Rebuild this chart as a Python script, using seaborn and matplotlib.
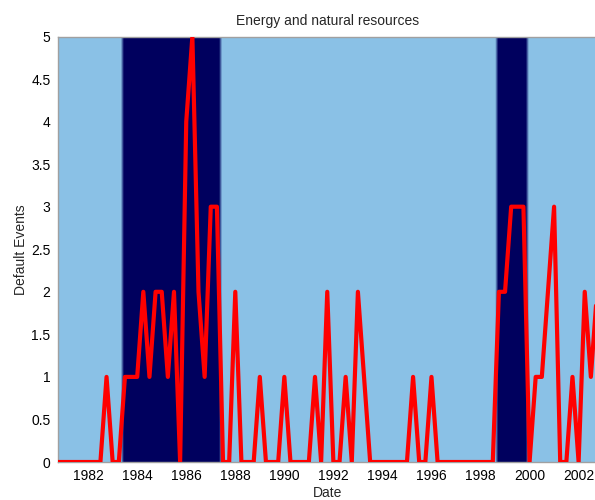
import numpy as np
import pandas as pd
import matplotlib
matplotlib.use("Agg")
import matplotlib.pyplot as plt
from matplotlib.colors import LinearSegmentedColormap
import seaborn as sns

# Quarterly default counts, 1980Q4 .. 2002Q4
defaults = [
    0,
    0, 0, 0, 0,   # 1981
    0, 0, 0, 1,   # 1982
    0, 0, 1, 1,   # 1983
    1, 2, 1, 2,   # 1984
    2, 1, 2, 0,   # 1985
    4, 5, 2, 1,   # 1986
    3, 3, 0, 0,   # 1987
    2, 0, 0, 0,   # 1988
    1, 0, 0, 0,   # 1989
    1, 0, 0, 0,   # 1990
    0, 1, 0, 2,   # 1991
    0, 0, 1, 0,   # 1992
    2, 1, 0, 0,   # 1993
    0, 0, 0, 0,   # 1994
    0, 1, 0, 0,   # 1995
    1, 0, 0, 0,   # 1996
    0, 0, 0, 0,   # 1997
    0, 0, 0, 2,   # 1998
    2, 3, 3, 3,   # 1999
    0, 1, 1, 2,   # 2000
    3, 0, 0, 1,   # 2001
    0, 2, 1, 2,   # 2002
]

# High-default regime indicator for the same quarters
regime = [
    0,
    0, 0, 0, 0,   # 1981
    0, 0, 0, 0,   # 1982
    0, 0, 1, 1,   # 1983
    1, 1, 1, 1,   # 1984
    1, 1, 1, 1,   # 1985
    1, 1, 1, 1,   # 1986
    1, 1, 0, 0,   # 1987
    0, 0, 0, 0,   # 1988
    0, 0, 0, 0,   # 1989
    0, 0, 0, 0,   # 1990
    0, 0, 0, 0,   # 1991
    0, 0, 0, 0,   # 1992
    0, 0, 0, 0,   # 1993
    0, 0, 0, 0,   # 1994
    0, 0, 0, 0,   # 1995
    0, 0, 0, 0,   # 1996
    0, 0, 0, 0,   # 1997
    0, 0, 0, 1,   # 1998
    1, 1, 1, 1,   # 1999
    0, 0, 0, 0,   # 2000
    0, 0, 0, 0,   # 2001
    0, 0, 0, 0,   # 2002
]

quarters = pd.period_range("1980Q4", "2002Q4", freq="Q")
dates = np.array([q.year + (q.quarter - 1) / 4 for q in quarters])

title = "Energy and natural resources"
x_ticks = list(range(1982, 2003, 2))
y_ticks = [0, 0.5, 1, 1.5, 2, 2.5, 3, 3.5, 4, 4.5, 5]
y_tick_labels = ["0", "0.5", "1", "1.5", "2", "2.5", "3", "3.5", "4", "4.5", "5"]

df = pd.DataFrame({"Date": dates, "Defaults": defaults})

sns.set_style("white")
plt.rcParams["font.family"] = ["Liberation Sans", "DejaVu Sans"]

fig = plt.figure(figsize=(5.95, 5.0), dpi=100)
ax = fig.add_axes([57.5 / 595, 38 / 500, (597 - 57.5) / 595, (462 - 36.5) / 500])

light = "#8AC1E6"
dark = "#00005E"
cmap = LinearSegmentedColormap.from_list("regime", [light, dark])
step = dates[1] - dates[0]
band = np.repeat(np.array(regime, dtype=float), 2)[np.newaxis, :]
ax.imshow(band, extent=[dates[0] - step / 2, dates[-1] + step / 2, 0, 5],
          aspect="auto", cmap=cmap, vmin=0, vmax=1,
          interpolation="bilinear", origin="lower", zorder=0)

sns.lineplot(data=df, x="Date", y="Defaults", color="red", linewidth=3,
             ax=ax, zorder=2, clip_on=True)

ax.set_xlim(dates[0], dates[-1])
ax.set_ylim(0, 5)
ax.set_xticks(x_ticks)
ax.set_xticklabels([str(t) for t in x_ticks])
ax.set_yticks(y_ticks)
ax.set_yticklabels(y_tick_labels)
ax.tick_params(axis="both", length=0, labelsize=10, pad=5, colors="black")

ax.set_title(title, fontsize=10, pad=8)
ax.set_xlabel("Date", fontsize=10, labelpad=2)
ax.set_ylabel("Default Events", fontsize=10, labelpad=2)

for s in ax.spines.values():
    s.set_color("#a0a0a0")
    s.set_linewidth(1.0)
    s.set_zorder(1)

fig.savefig("out.png", dpi=100)
